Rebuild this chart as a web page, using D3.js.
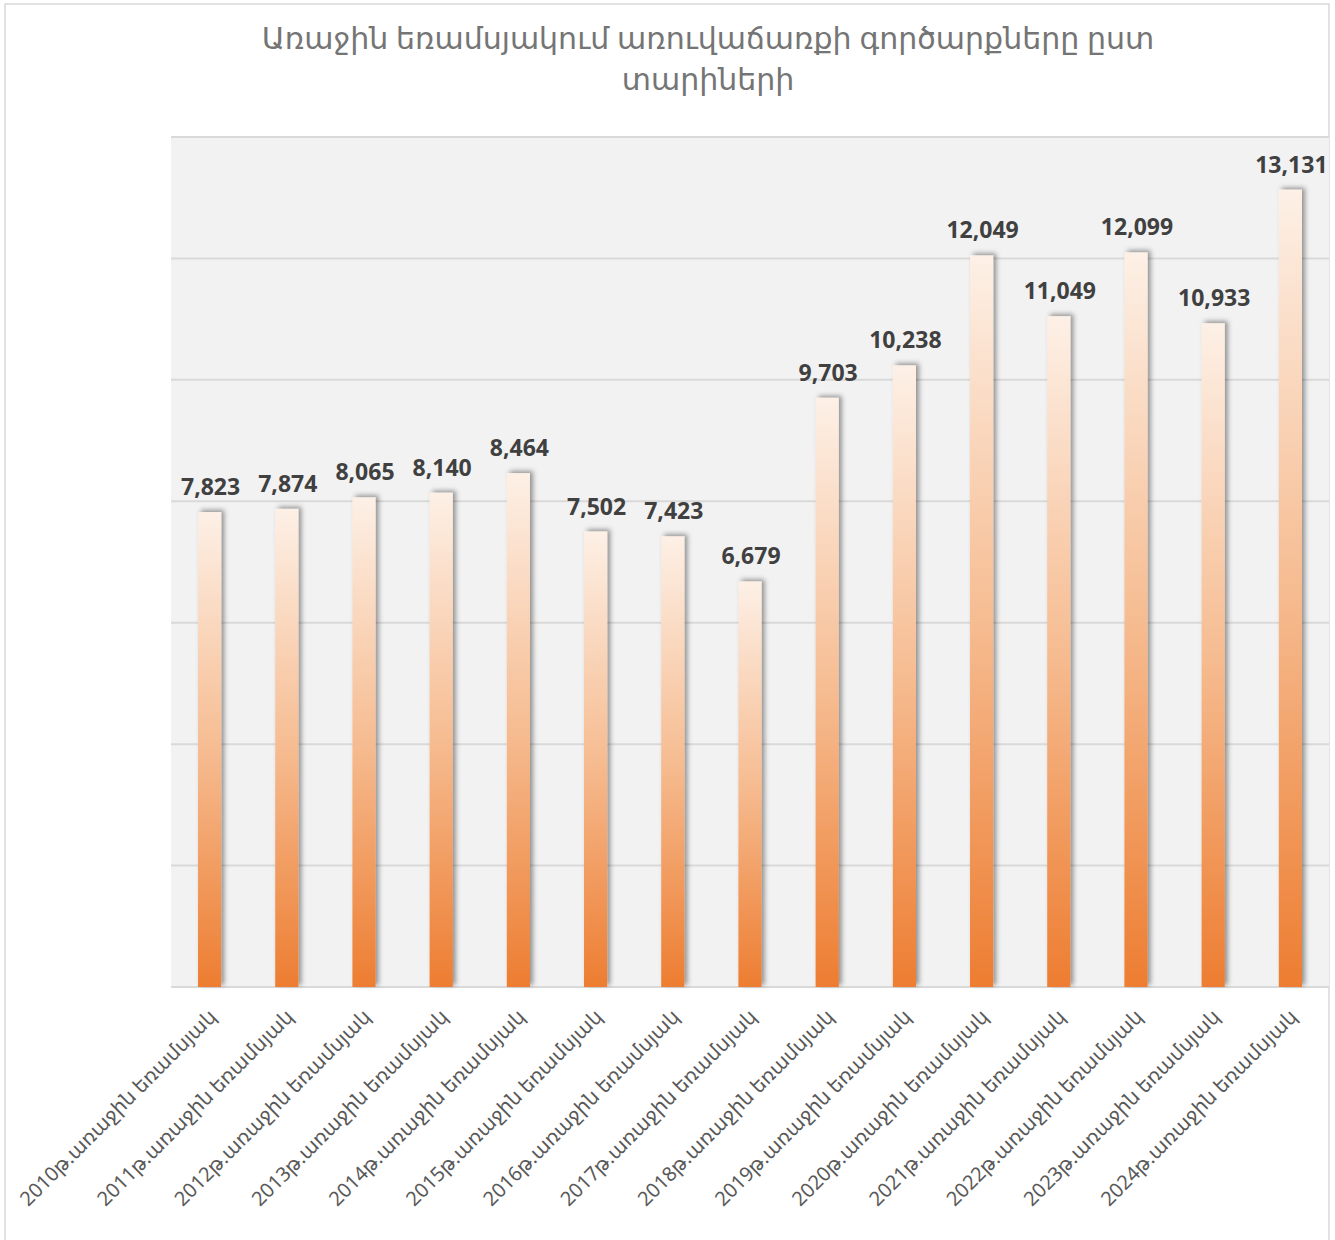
<!DOCTYPE html>
<html>
<head>
<meta charset="utf-8">
<script src="https://cdn.jsdelivr.net/npm/d3@7"></script>
<style>
  body { margin: 0; background: #fff; }
  svg text { font-family: "Noto Sans", "DejaVu Sans", sans-serif; }
</style>
</head>
<body>
<div id="chart"></div>
<script>
'use strict'

const years = ['2010', '2011', '2012', '2013', '2014', '2015', '2016', '2017', '2018', '2019', '2020', '2021', '2022', '2023', '2024']
const categories = years.map(y => y + 'թ.առաջին եռամսյակ')
const values = [7823, 7874, 8065, 8140, 8464, 7502, 7423, 6679, 9703, 10238, 12049, 11049, 12099, 10933, 13131]
const yTicks = [0, 2000, 4000, 6000, 8000, 10000, 12000, 14000]
const titleLines = ['Առաջին եռամսյակում առուվաճառքի գործարքները ըստ', 'տարիների']

const W = 1335, H = 1240
const margin = {left: 171, top: 137, right: 6, bottom: 253}

const svg = d3.select('#chart').append('svg')
  .attr('width', W)
  .attr('height', H)

const defs = svg.append('defs')
const grad = defs.append('linearGradient')
  .attr('id', 'barGrad')
  .attr('x1', 0).attr('y1', 0).attr('x2', 0).attr('y2', 1)
grad.append('stop').attr('offset', '0%').attr('stop-color', '#fdf0e6')
grad.append('stop').attr('offset', '50%').attr('stop-color', '#f6bc91')
grad.append('stop').attr('offset', '100%').attr('stop-color', '#ed7d31')

const shadow = defs.append('filter').attr('id', 'shadow')
  .attr('x', '-50%').attr('y', '-10%').attr('width', '200%').attr('height', '120%')
shadow.append('feDropShadow')
  .attr('dx', 3).attr('dy', -2)
  .attr('stdDeviation', 2.5)
  .attr('flood-color', '#000')
  .attr('flood-opacity', 0.4)

// chart border
svg.append('rect')
  .attr('x', 5).attr('y', 4)
  .attr('width', 1324).attr('height', H - 2)
  .attr('fill', '#fff')
  .attr('stroke', '#d9d9d9')
  .attr('stroke-width', 1.5)

// title
svg.append('g').selectAll('text').data(titleLines).enter()
  .append('text')
    .attr('x', 708)
    .attr('y', (d, i) => 49 + i * 41)
    .attr('text-anchor', 'middle')
    .attr('fill', '#757575')
    .attr('font-size', 30)
    .text(d => d)

const x = d3.scaleBand()
  .domain(categories)
  .range([margin.left, W - margin.right])
  .paddingInner(0.7)
  .paddingOuter(0.35)

const y = d3.scaleLinear()
  .domain([0, 14000])
  .range([H - margin.bottom, margin.top])

// plot background
svg.append('rect')
  .attr('x', margin.left).attr('y', margin.top)
  .attr('width', W - margin.right - margin.left)
  .attr('height', H - margin.bottom - margin.top)
  .attr('fill', '#f2f2f2')

// gridlines
svg.append('g').selectAll('line').data(yTicks).enter()
  .append('line')
    .attr('x1', margin.left).attr('x2', W - margin.right)
    .attr('y1', d => y(d)).attr('y2', d => y(d))
    .attr('stroke', '#d9d9d9')
    .attr('stroke-width', 2)

// bars
svg.append('g').selectAll('rect').data(values).enter()
  .append('rect')
    .attr('x', (d, i) => x(categories[i]))
    .attr('y', d => y(d))
    .attr('width', x.bandwidth())
    .attr('height', d => y(0) - y(d))
    .attr('fill', 'url(#barGrad)')
    .attr('filter', 'url(#shadow)')

// value labels
svg.append('g').selectAll('text').data(values).enter()
  .append('text')
    .attr('x', (d, i) => x(categories[i]) + x.bandwidth() / 2 + 1)
    .attr('y', d => y(d) - 17)
    .attr('text-anchor', 'middle')
    .attr('fill', '#404040')
    .attr('font-size', 23)
    .attr('font-weight', 'bold')
    .text(d => d3.format(',')(d))

// category axis labels
svg.append('g').selectAll('text').data(categories).enter()
  .append('text')
    .attr('transform', (d, i) => {
      const cx = x(d) + x.bandwidth() / 2 + 8
      return 'translate(' + cx + ',' + 1018 + ') rotate(-45)'
    })
    .attr('text-anchor', 'end')
    .attr('fill', '#595959')
    .attr('font-size', 20)
    .text(d => d)
</script>
</body>
</html>
